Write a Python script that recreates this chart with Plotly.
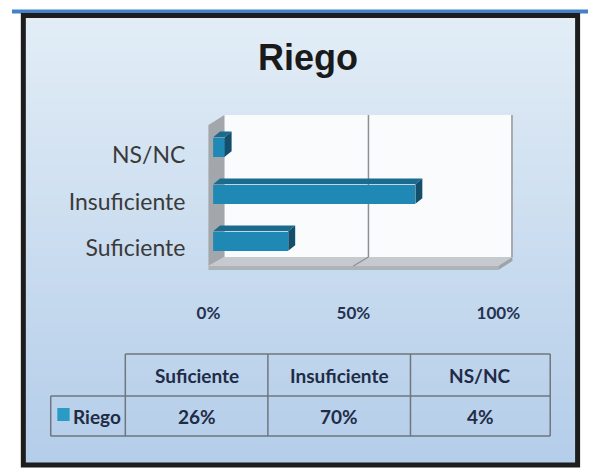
import plotly.graph_objects as go

# ---- data ----
categories = ["Suficiente", "Insuficiente", "NS/NC"]
values = [26, 70, 4]
series_name = "Riego"
x_ticks = [0, 50, 100]
x_tick_labels = ["0%", "50%", "100%"]

W, H = 610, 472
def px(x): return x / W
def py(y): return 1 - y / H

BAR_FRONT = "#2088b4"
BAR_TOP = "#1b6b8f"
BAR_SIDE = "#134f6a"
LBL_FONT = "Lato"

fig = go.Figure()

# invisible trace to hold the label axes (x / y)
fig.add_trace(go.Scatter(x=values, y=categories, mode="markers",
                         marker=dict(opacity=0), hoverinfo="skip",
                         showlegend=False, xaxis="x", yaxis="y"))

# bars (front faces) on x2/y2 (numeric positions of the categories)
pos = [categories.index(c) for c in categories]
bw = 0.42
fig.add_trace(go.Bar(x=values, y=pos, orientation="h", width=bw,
                     marker=dict(color=BAR_FRONT, line=dict(width=0)),
                     text=categories, hoverinfo="text+x", textposition="none",
                     showlegend=False, xaxis="x2", yaxis="y2", name=series_name))

# 3D faces computed from data values
dx, dy = 2.4, 0.12
tx, ty, sx, sy = [], [], [], []
for i, v in zip(pos, values):
    top = i + bw / 2
    bot = i - bw / 2
    tx += [0, v, v + dx, dx, 0, None]
    ty += [top, top, top + dy, top + dy, top, None]
    sx += [v, v + dx, v + dx, v, v, None]
    sy += [bot, bot + dy, top + dy, top, bot, None]
fig.add_trace(go.Scatter(x=tx, y=ty, fill="toself", fillcolor=BAR_TOP, mode="lines",
                         line=dict(width=0), hoverinfo="skip", showlegend=False,
                         xaxis="x2", yaxis="y2"))
fig.add_trace(go.Scatter(x=sx, y=sy, fill="toself", fillcolor=BAR_SIDE, mode="lines",
                         line=dict(width=0), hoverinfo="skip", showlegend=False,
                         xaxis="x2", yaxis="y2"))

shapes = []
# background gradient inside frame
top_c = (226, 237, 246)
bot_c = (180, 205, 233)
N = 60
y0, y1 = 15, 465
for k in range(N):
    t = k / (N - 1)
    c = tuple(int(round(top_c[j] + (bot_c[j] - top_c[j]) * t)) for j in range(3))
    ya = y0 + (y1 - y0) * k / N
    yb = y0 + (y1 - y0) * (k + 1) / N + 0.5
    shapes.append(dict(type="rect", xref="paper", yref="paper", layer="below",
                       x0=px(12), x1=px(599), y0=py(ya), y1=py(yb),
                       fillcolor="rgb(%d,%d,%d)" % c, line=dict(width=0)))
# blue top line
shapes.append(dict(type="rect", xref="paper", yref="paper", layer="below",
                   x0=0, x1=1, y0=py(13.5), y1=py(9.5),
                   fillcolor="#4581c6", line=dict(width=0)))
# dark frame
shapes.append(dict(type="rect", xref="paper", yref="paper", layer="below",
                   x0=px(12), x1=px(599), y0=py(15.5), y1=py(465),
                   line=dict(color="#1d1d1d", width=5)))

def poly(pts, fill, line=None):
    path = "M " + " L ".join("%f,%f" % (px(a), py(b)) for a, b in pts) + " Z"
    return dict(type="path", xref="paper", yref="paper", layer="below", path=path,
                fillcolor=fill, line=line or dict(width=0))

# back wall
shapes.append(poly([(225, 115), (530, 115), (530, 257), (225, 257)], "#f9fbfd"))
shapes.append(dict(type="line", xref="paper", yref="paper", layer="below",
                   x0=px(529.5), x1=px(529.5), y0=py(115), y1=py(257),
                   line=dict(color="#8f9296", width=1.5)))
# left wall
shapes.append(poly([(208, 125), (225, 115), (225, 257), (208, 266)], "#a3a7ac"))
# floor top
shapes.append(poly([(225, 257), (530, 257), (515, 266), (208, 266)], "#c6cacf"))
# floor front face
shapes.append(poly([(208, 266), (515, 266), (515, 270), (208, 270)], "#aeb3b8"))
# floor right face
shapes.append(poly([(515, 266), (530, 257), (530, 261), (515, 270)], "#9ea3a8"))
# 50% gridline on back wall and floor
shapes.append(dict(type="line", xref="paper", yref="paper", layer="below",
                   x0=px(377.5), x1=px(377.5), y0=py(115), y1=py(257),
                   line=dict(color="#8c8f93", width=1.5)))
shapes.append(dict(type="line", xref="paper", yref="paper", layer="below",
                   x0=px(377.5), x1=px(361.5), y0=py(257), y1=py(266),
                   line=dict(color="#8c8f93", width=1.2)))

# ---- data table ----
TBL = "#6f767e"
col_edges = [41, 120, 271, 422, 570]
row_edges = [354, 396, 436]
def hline(xa, xb, y):
    return dict(type="line", xref="paper", yref="paper", x0=px(xa), x1=px(xb),
                y0=py(y), y1=py(y), line=dict(color=TBL, width=1.5))
def vline(x, ya, yb):
    return dict(type="line", xref="paper", yref="paper", x0=px(x), x1=px(x),
                y0=py(ya), y1=py(yb), line=dict(color=TBL, width=1.5))
shapes.append(hline(col_edges[1], col_edges[-1], row_edges[0]))
shapes.append(hline(col_edges[0], col_edges[-1], row_edges[1]))
shapes.append(hline(col_edges[0], col_edges[-1], row_edges[2]))
shapes.append(vline(col_edges[0], row_edges[1], row_edges[2]))
for x in col_edges[1:]:
    shapes.append(vline(x, row_edges[0], row_edges[2]))
# legend key square
shapes.append(dict(type="rect", xref="paper", yref="paper",
                   x0=px(48), x1=px(61), y0=py(421), y1=py(408),
                   fillcolor="#2a9bc5", line=dict(width=0)))

annotations = []
TXT = "#1f2c47"
TFS = 19
for j, cat in enumerate(categories):
    cx = (col_edges[j + 1] + col_edges[j + 2]) / 2
    annotations.append(dict(xref="paper", yref="paper", x=px(cx),
                            y=py((row_edges[0] + row_edges[1]) / 2),
                            xanchor="center", yanchor="middle",
                            text="<b>%s</b>" % cat, showarrow=False,
                            font=dict(family=LBL_FONT, size=TFS, color=TXT)))
    annotations.append(dict(xref="paper", yref="paper", x=px(cx),
                            y=py((row_edges[1] + row_edges[2]) / 2),
                            xanchor="center", yanchor="middle",
                            text="<b>%d%%</b>" % values[j], showarrow=False,
                            font=dict(family=LBL_FONT, size=TFS, color=TXT)))
annotations.append(dict(xref="paper", yref="paper", x=px(63),
                        y=py((row_edges[1] + row_edges[2]) / 2),
                        xanchor="left", yanchor="middle",
                        text="<b>%s</b>" % series_name, showarrow=False,
                        font=dict(family=LBL_FONT, size=TFS, color=TXT)))

fig.update_layout(
    width=W, height=H, margin=dict(l=0, r=0, t=0, b=0),
    paper_bgcolor="white", plot_bgcolor="rgba(0,0,0,0)",
    title=dict(text="<b>Riego</b>", x=px(308), xanchor="center",
               y=py(57), yanchor="middle",
               font=dict(family="Liberation Sans", size=36, color="#1a1a1a")),
    showlegend=False, bargap=0,
    xaxis=dict(domain=[px(208), px(515)], range=[0, 100], anchor="y",
               tickvals=x_ticks, ticktext=x_tick_labels, showgrid=False,
               zeroline=False, showline=False, ticks="", ticklabelstandoff=30,
               tickfont=dict(family=LBL_FONT, size=17, color="#243352", weight="bold")),
    yaxis=dict(domain=[py(271.25), py(131.75)], type="category",
               categoryorder="array", categoryarray=categories, range=[-0.5, 2.5],
               anchor="x", showgrid=False, zeroline=False, showline=False, ticks="",
               ticklabelstandoff=22,
               tickfont=dict(family=LBL_FONT, size=23, color="#3a3a3a")),
    xaxis2=dict(domain=[px(213), px(519)], range=[0, 100], anchor="y2",
                visible=False),
    yaxis2=dict(domain=[py(264.5), py(123.5)], type="linear", range=[-0.5, 2.5],
                anchor="x2", visible=False),
    shapes=shapes, annotations=annotations,
)

fig.write_html("out.html", config={"displayModeBar": False},
               post_script="document.body.style.margin='0';document.body.style.overflow='hidden';")
